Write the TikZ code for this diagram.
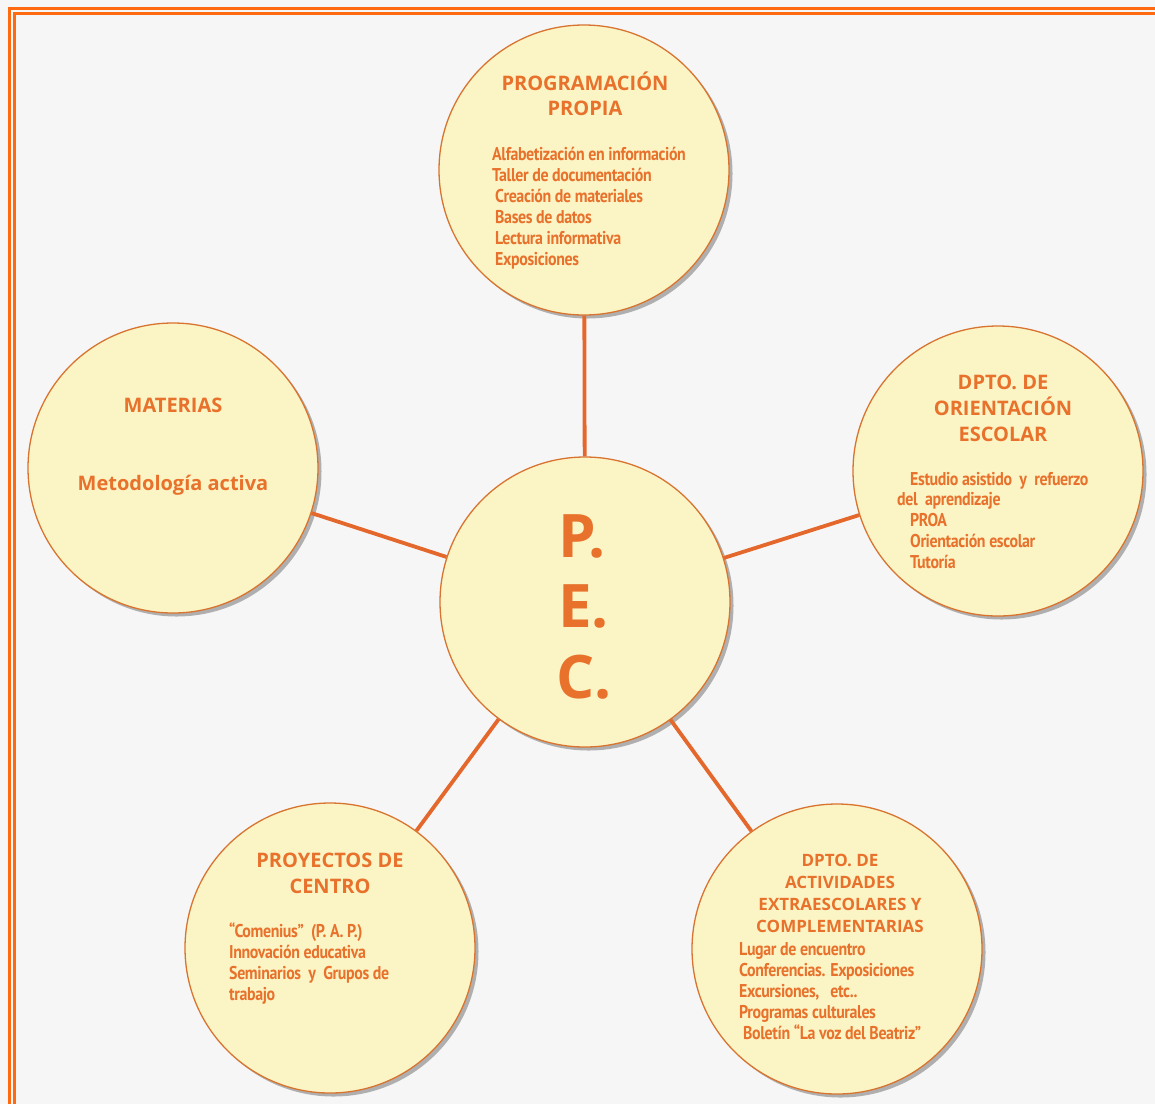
\documentclass[tikz,border=0pt]{standalone}
\usepackage{fontspec}
\setmainfont{Open Sans}
\newfontfamily\bodyf[FakeStretch=0.86,LetterSpace=-2]{PT Sans Bold}
\usetikzlibrary{shadows}
\definecolor{bg}{HTML}{F6F6F7}
\definecolor{framec}{HTML}{FF6A10}
\definecolor{fillc}{HTML}{FBF4C5}
\definecolor{edgec}{HTML}{D8742F}
\definecolor{txtc}{HTML}{E8712C}
\definecolor{linkc}{HTML}{E4682C}
\begin{document}
\begin{tikzpicture}[x=1pt,y=-1pt,
  bubble/.style={circle, minimum size=290pt, inner sep=0pt, draw=edgec, line width=1.3pt, fill=fillc,
    drop shadow={shadow xshift=3.5pt, shadow yshift=-3.5pt, fill=black!50, opacity=0.6}},
  linkline/.style={draw=linkc, line width=3.8pt},
  framel/.style={draw=framec, line width=3pt},
  head/.style={font=\bfseries\fontsize{20}{24}\selectfont, text=txtc, inner sep=0pt, anchor=base},
  headsm/.style={font=\bfseries\fontsize{17}{20}\selectfont, text=txtc, inner sep=0pt, anchor=base},
  body/.style={font=\bodyf\fontsize{18.5}{21}\selectfont, text=txtc, inner sep=0pt, anchor=base west},
  big/.style={font=\bfseries\fontsize{60}{60}\selectfont, text=txtc, inner sep=0pt, anchor=base west}]
\fill[bg] (0,0) rectangle (1155,1104);
\useasboundingbox (0,0) rectangle (1155,1104);
% frame
\draw[framel] (9.5,1104) -- (9.5,8.5) -- (1155,8.5);
\draw[framel] (14.5,1104) -- (14.5,13.5) -- (1155,13.5);
% circles
\node[bubble] (top) at (584,170) {};
\node[bubble] (mat) at (173,468) {};
\node[bubble] (ori) at (998,471) {};
\node[bubble] (pec) at (585,602) {};
\node[bubble] (pro) at (330,948) {};
\node[bubble] (act) at (837,949) {};
% connectors
\draw[linkline] (pec) -- (top);
\draw[linkline] (pec) -- (mat);
\draw[linkline] (pec) -- (ori);
\draw[linkline] (pec) -- (pro);
\draw[linkline] (pec) -- (act);
% PEC
\node[big] (pecP) at (558,557) {P.};
\node[big] (pecE) at (558,627) {E.};
\node[big] (pecC) at (556,698) {C.};
% top
\node[head] (topH1) at (585,90) {PROGRAMACIÓN};
\node[head] (topH2) at (585,115) {PROPIA};
\node[body] (topB1) at (492,160) {Alfabetización en información};
\node[body] (topB2) at (492,181) {Taller de documentación};
\node[body] (topB3) at (495,202) {Creación de materiales};
\node[body] (topB4) at (495,223) {Bases de datos};
\node[body] (topB5) at (495,244) {Lectura informativa};
\node[body] (topB6) at (495,265) {Exposiciones};
% materias
\node[head] (matH) at (173,412) {MATERIAS};
\node[head] (matB) at (173,490) {Metodología activa};
% orientacion
\node[head] (oriH1) at (1003,389) {DPTO. DE};
\node[head] (oriH2) at (1003,415) {ORIENTACIÓN};
\node[head] (oriH3) at (1003,441) {ESCOLAR};
\node[body] (oriB1) at (910,485) {Estudio asistido\ \ y\ \ refuerzo};
\node[body] (oriB2) at (897,505) {del\ \ aprendizaje};
\node[body] (oriB3) at (910,526) {PROA};
\node[body] (oriB4) at (910,547) {Orientación escolar};
\node[body] (oriB5) at (910,568) {Tutoría};
% proyectos
\node[head] (proH1) at (330,867) {PROYECTOS DE};
\node[head] (proH2) at (330,893) {CENTRO};
\node[body] (proB1) at (229,937) {“Comenius”\ \ (P. A. P.)};
\node[body] (proB2) at (229,958) {Innovación educativa};
\node[body] (proB3) at (229,979) {Seminarios\ \ y\ \ Grupos de};
\node[body] (proB4) at (229,1000) {trabajo};
% actividades
\node[headsm] (actH1) at (840,866) {DPTO. DE};
\node[headsm] (actH2) at (840,888) {ACTIVIDADES};
\node[headsm] (actH3) at (840,910) {EXTRAESCOLARES Y};
\node[headsm] (actH4) at (840,932) {COMPLEMENTARIAS};
\node[body] (actB1) at (739,955) {Lugar de encuentro};
\node[body] (actB2) at (739,976) {Conferencias. Exposiciones};
\node[body] (actB3) at (739,997) {Excursiones,\ \ \ etc..};
\node[body] (actB4) at (739,1018) {Programas culturales};
\node[body] (actB5) at (743,1039) {Boletín “La voz del Beatriz”};
\end{tikzpicture}
\end{document}
